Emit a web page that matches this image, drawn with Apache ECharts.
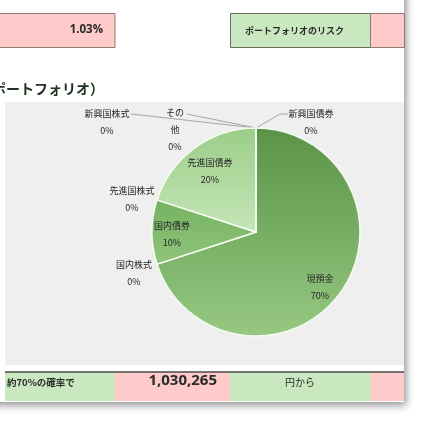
<!DOCTYPE html>
<html><head><meta charset="utf-8">
<script src="https://cdn.jsdelivr.net/npm/echarts@6/dist/echarts.min.js"></script>
<style>html,body{margin:0;padding:0;background:#fff}#c{width:423px;height:423px}</style>
</head><body><div id="c"></div>
<script>
const categories = ['現預金','国内株式','国内債券','先進国株式','先進国債券','新興国株式','新興国債券','その他'];
const values = [70, 0, 10, 0, 20, 0, 0, 0];
const riskValue = '1.03%';
const amountText = '1,030,265';

const FONT = '"Noto Sans CJK JP", sans-serif';
const NUMFONT = '"Open Sans", "Noto Sans CJK JP", sans-serif';
const labelPos = {
  0: [320, 287], 1: [134, 273], 2: [172, 234], 3: [132, 199],
  4: [210, 171], 5: [107, 122], 6: [311, 122], 7: [175, 130]
};
const linePts = {
  5: [[131, 114], [256, 128]],
  6: [[288, 114], [280, 114], [256, 128]],
  7: [[187, 114], [256, 128]]
};
function grad(a, b) {
  return new echarts.graphic.LinearGradient(0, 0, 0, 1, [{offset: 0, color: a}, {offset: 1, color: b}]);
}
const sliceColors = {
  0: grad('#5a9346', '#96c882'),
  2: grad('#76b261', '#8fc47b'),
  4: grad('#9acd88', '#c6e7b8')
};
const data = categories.map((n, i) => {
  const d = {name: n, value: values[i]};
  if (sliceColors[i]) d.itemStyle = {color: sliceColors[i]};
  if (n === 'その他') d.label = {formatter: 'その\n他\n{d}%'};
  d.labelLine = {show: !!linePts[i]};
  return d;
});

const chart = echarts.init(document.getElementById('c'), null, {renderer: 'canvas'});
chart.setOption({
  animation: false,
  backgroundColor: '#ffffff',
  graphic: [
    {type: 'rect', z: -10, shape: {x: -20, y: -20, width: 424, height: 422},
     style: {fill: '#ffffff', shadowBlur: 8, shadowColor: 'rgba(0,0,0,0.45)', shadowOffsetX: 2, shadowOffsetY: 3}},
    // top row
    {type: 'rect', shape: {x: -2, y: 13.5, width: 117, height: 34}, style: {fill: '#ffcaca', stroke: '#8c7c6c', lineWidth: 1}},
    {type: 'text', style: {x: 103, y: 30, text: riskValue, align: 'right', verticalAlign: 'middle', font: 'bold 11.5px ' + NUMFONT, fill: '#2a2a2a'}},
    {type: 'rect', shape: {x: 230.5, y: 13.5, width: 140, height: 34}, style: {fill: '#c9e8bf', stroke: '#6c6c5c', lineWidth: 1}},
    {type: 'text', style: {x: 245, y: 31, text: 'ポートフォリオのリスク', align: 'left', verticalAlign: 'middle', font: 'bold 9px ' + FONT, fill: '#2a2a2a'}},
    {type: 'rect', shape: {x: 370.5, y: 13.5, width: 34, height: 34}, style: {fill: '#ffcaca', stroke: '#8c7c6c', lineWidth: 1}},
    // title
    {type: 'text', style: {x: -8, y: 89, text: 'ポートフォリオ）', align: 'left', verticalAlign: 'middle', font: 'bold 14px ' + FONT, fill: '#223322'}},
    // chart area
    {type: 'rect', shape: {x: 5, y: 102, width: 399, height: 263}, style: {fill: '#efefef'}},
    // bottom row
    {type: 'rect', shape: {x: 5, y: 372, width: 110, height: 29}, style: {fill: '#c9e8bf'}},
    {type: 'rect', shape: {x: 115, y: 372, width: 115, height: 29}, style: {fill: '#ffcaca'}},
    {type: 'rect', shape: {x: 230, y: 372, width: 141, height: 29}, style: {fill: '#c9e8bf'}},
    {type: 'rect', shape: {x: 371, y: 372, width: 33, height: 29}, style: {fill: '#ffcaca'}},
    {type: 'line', shape: {x1: 5, y1: 372, x2: 404, y2: 372}, style: {stroke: '#4a4a4a', lineWidth: 1.5}},
    {type: 'text', style: {x: 7, y: 382, text: '約70%の確率で', align: 'left', verticalAlign: 'middle', font: 'bold 9.5px ' + FONT, fill: '#2a2a2a'}},
    {type: 'text', style: {x: 217, y: 381, text: amountText, align: 'right', verticalAlign: 'middle', font: 'bold 15px ' + NUMFONT, fill: '#2a2a2a'}},
    {type: 'text', style: {x: 300, y: 382, text: '円から', align: 'center', verticalAlign: 'middle', font: '10px ' + FONT, fill: '#2a2a2a'}}
  ],
  series: [{
    type: 'pie',
    center: [256, 232],
    radius: [0, 104],
    startAngle: 90,
    clockwise: true,
    avoidLabelOverlap: false,
    percentPrecision: 0,
    itemStyle: {borderColor: '#f4fbf0', borderWidth: 1.5},
    label: {
      show: true, position: 'outside', formatter: '{b}\n{d}%',
      fontFamily: FONT, fontSize: 9, color: '#262626', lineHeight: 17, align: 'center'
    },
    labelLine: {show: false, lineStyle: {color: '#a6a6a6', width: 1}},
    labelLayout: function (p) {
      const pos = labelPos[p.dataIndex];
      const r = {x: pos[0], y: pos[1], align: 'center', verticalAlign: 'middle'};
      if (linePts[p.dataIndex]) r.labelLinePoints = linePts[p.dataIndex];
      return r;
    },
    data: data
  }]
});
</script></body></html>
